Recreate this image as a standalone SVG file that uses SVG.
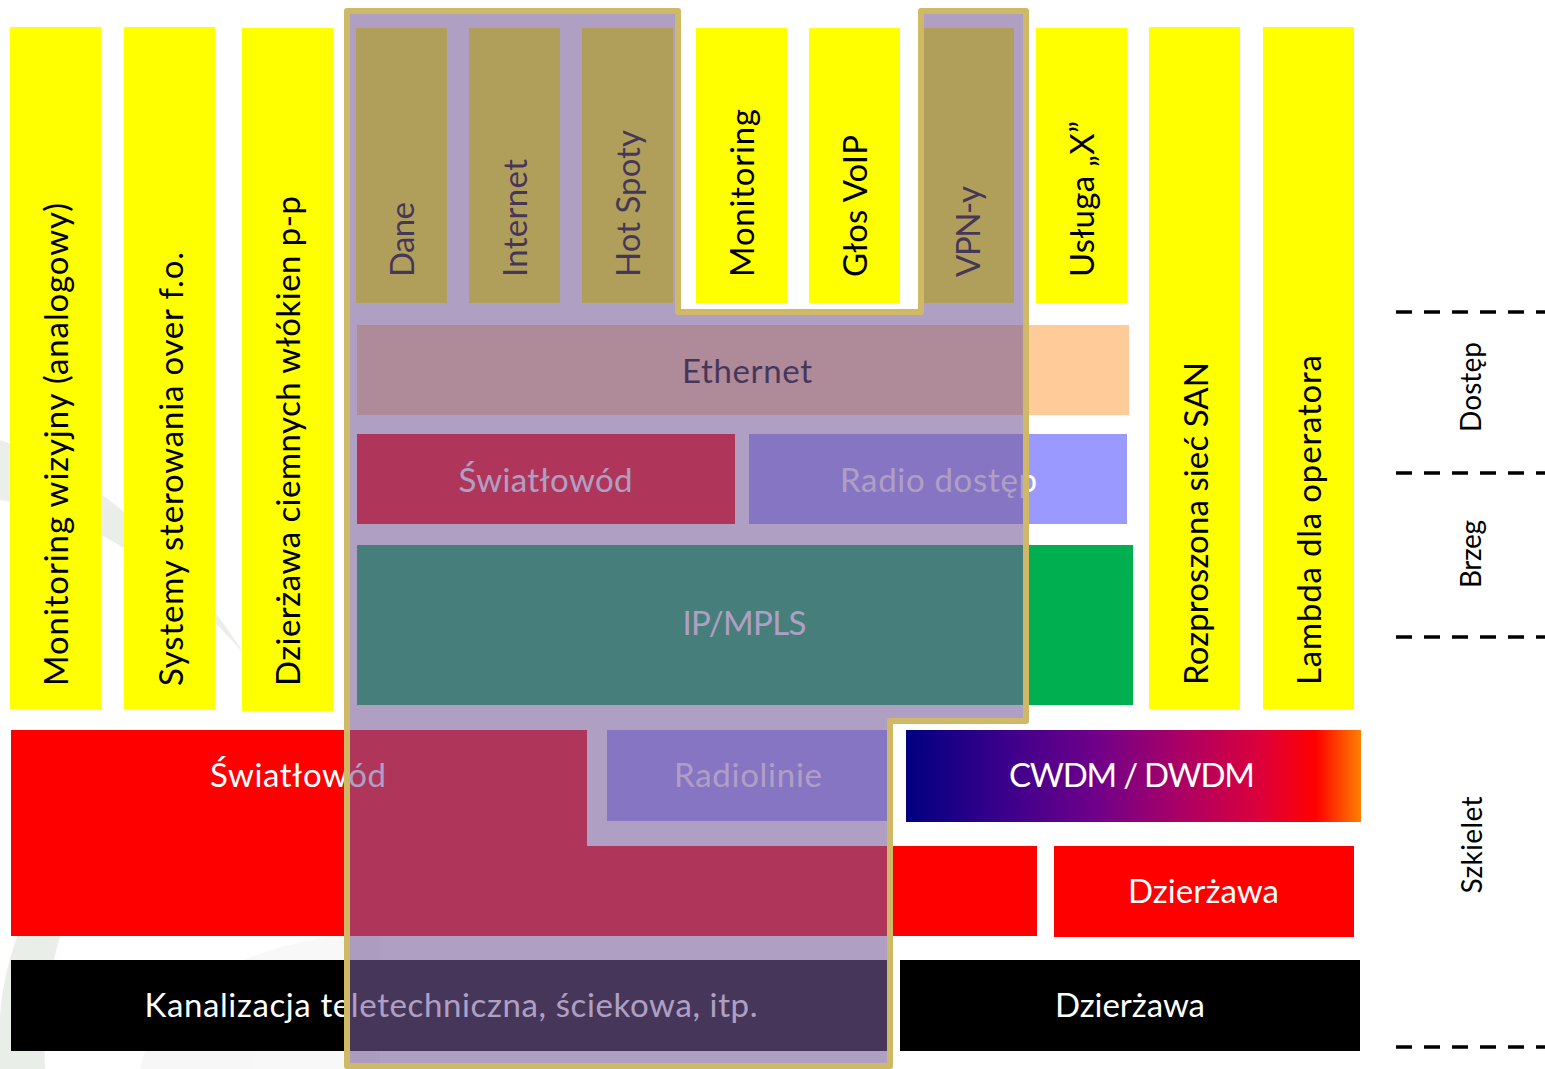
<svg xmlns="http://www.w3.org/2000/svg" width="1545" height="1069" viewBox="0 0 1545 1069">
<defs>
<linearGradient id="wdm" x1="0" y1="0" x2="1" y2="0">
<stop offset="0" stop-color="#000080"/>
<stop offset="0.22" stop-color="#3C008C"/>
<stop offset="0.42" stop-color="#70008A"/>
<stop offset="0.6" stop-color="#AA0066"/>
<stop offset="0.78" stop-color="#DC003A"/>
<stop offset="0.9" stop-color="#FF0000"/>
<stop offset="1" stop-color="#FF8000"/>
</linearGradient>
<style>
.y{fill:#FFFF00}
.t{font-family:Lato,"Liberation Sans",sans-serif;font-size:33px}
.s{font-family:Lato,"Liberation Sans",sans-serif;font-size:28px;fill:#000}
.k{fill:#000}
.w{fill:#FFFFFF}
.m{text-anchor:middle}
.dash{stroke:#000;stroke-width:3.5;stroke-dasharray:16 12;fill:none}
</style>
</defs>
<rect width="1545" height="1069" fill="#FFFFFF"/>
<g id="background" fill="#E6EAE3" opacity="0.8">
<path d="M0,440 C90,470 170,540 245,655 C175,575 95,515 0,500 Z"/>
<path d="M0,1069 C-10,930 60,820 200,735 C90,830 40,930 45,1069 Z"/>
<path d="M140,1069 C160,980 260,940 380,930 L380,1069 Z" fill="#F6F6F6"/>
</g>

<g id="col-monitoring-wizyjny"><rect class="y" x="10" y="27" width="91" height="682"/><text class="t k" transform="translate(68,686) rotate(-90)" textLength="483">Monitoring wizyjny (analogowy)</text></g>
<g id="col-systemy"><rect class="y" x="124" y="27" width="91" height="682"/><text class="t k" transform="translate(183,686) rotate(-90)" textLength="434">Systemy sterowania over f.o.</text></g>
<g id="col-dzierzawa-wlokien"><rect class="y" x="242" y="28" width="91" height="683"/><text class="t k" transform="translate(300,686) rotate(-90)" textLength="490">Dzierżawa ciemnych włókien p-p</text></g>

<g id="svc-dane"><rect class="y" x="356" y="28" width="91" height="275"/><text class="t k" transform="translate(414,277) rotate(-90)" textLength="75">Dane</text></g>
<g id="svc-internet"><rect class="y" x="469" y="28" width="91" height="275"/><text class="t k" transform="translate(527,277) rotate(-90)" textLength="118">Internet</text></g>
<g id="svc-hotspoty"><rect class="y" x="582" y="28" width="91" height="275"/><text class="t k" transform="translate(640,277) rotate(-90)" textLength="147">Hot Spoty</text></g>
<g id="svc-monitoring"><rect class="y" x="696" y="28" width="91" height="275"/><text class="t k" transform="translate(754,277) rotate(-90)" textLength="168">Monitoring</text></g>
<g id="svc-glos"><rect class="y" x="809" y="28" width="91" height="275"/><text class="t k" transform="translate(867,277) rotate(-90)" textLength="142">Głos VoIP</text></g>
<g id="svc-vpn"><rect class="y" x="923" y="28" width="91" height="275"/><text class="t k" transform="translate(980,277) rotate(-90)" textLength="91">VPN-y</text></g>
<g id="svc-usluga"><rect class="y" x="1036" y="28" width="91" height="275"/><text class="t k" transform="translate(1094,277) rotate(-90)" textLength="156">Usługa „X”</text></g>

<g id="layer-ethernet"><rect x="357" y="325" width="772" height="90" fill="#FFCC99"/><text class="t k m" x="747" y="383" textLength="130">Ethernet</text></g>
<g id="layer-swiatlowod-dostep"><rect x="357" y="434" width="378" height="90" fill="#FF0000"/><text class="t w m" x="545.5" y="492" textLength="174">Światłowód</text></g>
<g id="layer-radio-dostep"><rect x="749" y="434" width="378" height="90" fill="#9999FF"/><text class="t w m" x="938.5" y="492" textLength="197">Radio dostęp</text></g>
<g id="layer-ipmpls"><rect x="357" y="545" width="776" height="160" fill="#00B050"/><text class="t w m" x="744.5" y="635" textLength="124">IP/MPLS</text></g>

<g id="col-san"><rect class="y" x="1149" y="27" width="91" height="682"/><text class="t k" transform="translate(1208,685) rotate(-90)" textLength="323">Rozproszona sieć SAN</text></g>
<g id="col-lambda"><rect class="y" x="1263" y="27" width="91" height="682"/><text class="t k" transform="translate(1321,685) rotate(-90)" textLength="330">Lambda dla operatora</text></g>

<g id="core-swiatlowod"><path d="M11,730 H587 V846 H1037 V936 H11 Z" fill="#FF0000"/><text class="t w m" x="298" y="787" textLength="176">Światłowód</text></g>
<g id="core-radiolinie"><rect x="607" y="730" width="281" height="91" fill="#9999FF"/><text class="t w m" x="748" y="787" textLength="148">Radiolinie</text></g>
<g id="core-wdm"><rect x="906" y="730" width="455" height="92" fill="url(#wdm)"/><text class="t w m" x="1132" y="787" textLength="246">CWDM / DWDM</text></g>
<g id="core-dzierzawa"><rect x="1054" y="846" width="300" height="91" fill="#FF0000"/><text class="t w m" x="1203.5" y="903" textLength="151">Dzierżawa</text></g>
<g id="infra-kanalizacja"><rect x="11" y="960" width="877" height="91" fill="#000000"/><text class="t w m" x="451" y="1017" textLength="613">Kanalizacja teletechniczna, ściekowa, itp.</text></g>
<g id="infra-dzierzawa"><rect x="900" y="960" width="460" height="91" fill="#000000"/><text class="t w m" x="1130" y="1017" textLength="150">Dzierżawa</text></g>

<g id="overlay">
<path d="M347,11 H678 V312 H921 V11 H1026 V721 H890 V1066 H347 Z" fill="#775C99" fill-opacity="0.59" stroke="#CFB866" stroke-width="6" stroke-linejoin="round"/>
</g>

<g id="connectors">
<line class="dash" x1="1396" y1="312" x2="1545" y2="312"/>
<line class="dash" x1="1396" y1="473" x2="1545" y2="473"/>
<line class="dash" x1="1396" y1="637" x2="1545" y2="637"/>
<line class="dash" x1="1396" y1="1047" x2="1545" y2="1047"/>
</g>

<g id="label-dostep"><text class="s m" transform="translate(1481,387) rotate(-90)" textLength="90">Dostęp</text></g>
<g id="label-brzeg"><text class="s m" transform="translate(1481,554) rotate(-90)" textLength="68">Brzeg</text></g>
<g id="label-szkielet"><text class="s m" transform="translate(1482,845) rotate(-90)" textLength="97">Szkielet</text></g>
</svg>
